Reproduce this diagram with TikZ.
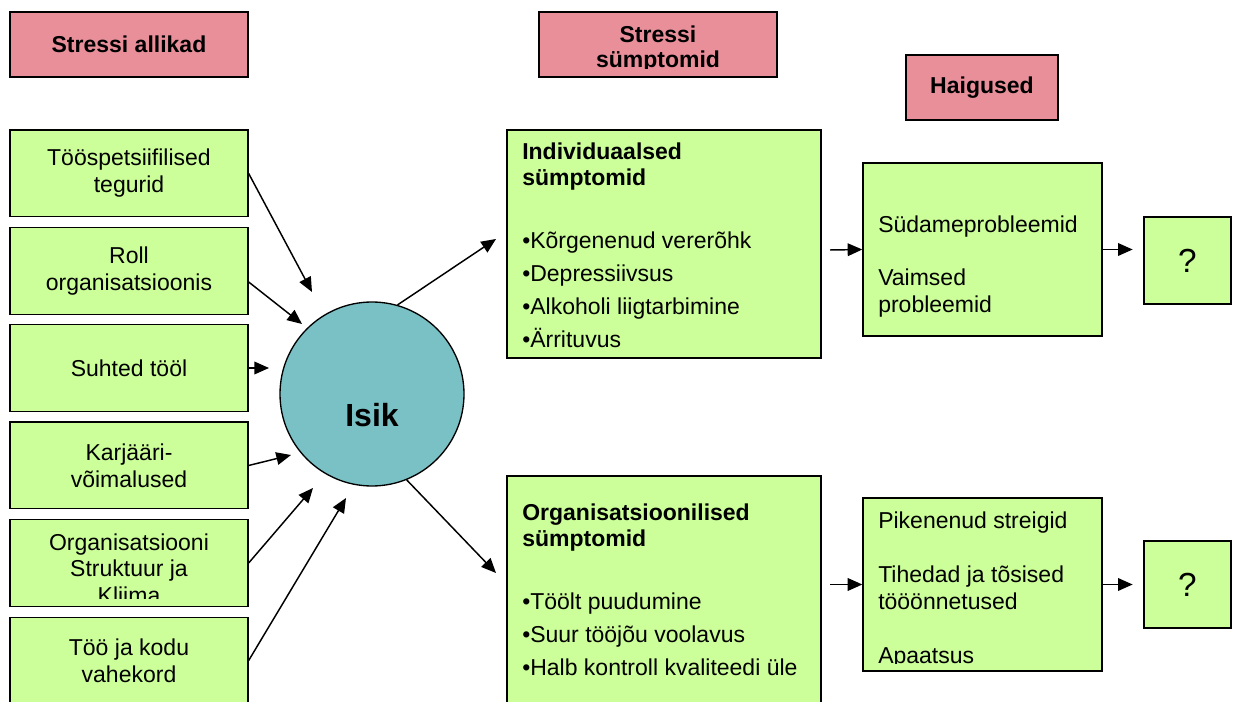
\documentclass[tikz,border=0pt]{standalone}
\usepackage{fontspec}
\setmainfont{Liberation Sans}
\usetikzlibrary{arrows.meta}

\definecolor{hdrpink}{RGB}{232,143,154}
\definecolor{boxgreen}{RGB}{204,255,153}
\definecolor{isikteal}{RGB}{122,193,198}

\tikzset{
  hdr/.style={draw=black, line width=1pt, fill=hdrpink, minimum width=178.5pt, minimum height=48.75pt, inner sep=0pt, align=center, font=\bfseries\fontsize{17.25}{19}\selectfont},
  src/.style={draw=black, line width=1pt, fill=boxgreen, minimum width=178.5pt, minimum height=65pt, inner sep=0pt, align=center, font=\fontsize{17.25}{20.25}\selectfont},
  symp/.style={draw=black, line width=1pt, fill=boxgreen, minimum width=235.5pt, minimum height=171pt, inner sep=0pt},
  ill/.style={draw=black, line width=1pt, fill=boxgreen, minimum width=179.25pt, minimum height=129.75pt, inner sep=0pt},
  qbox/.style={draw=black, line width=1pt, fill=boxgreen, minimum size=65.25pt, inner sep=0pt, font=\fontsize{25}{28}\selectfont},
  txt/.style={inner sep=0pt, anchor=north west, align=left, font=\fontsize{17.25}{20.25}\selectfont},
  arr/.style={-{Triangle[length=11pt,width=9.5pt]}, line width=1.1pt},
}

\begin{document}
\begin{tikzpicture}[x=0.75pt, y=-0.75pt]
        \useasboundingbox (0,0) rectangle (1233,702);

        % headers
        \node[hdr] (hsrc) at (129,44.5) {Stressi allikad};
        \node[hdr] (hsym) at (658,44.5) {};
        \begin{scope}
          \clip (539,12) rectangle (777,69);
          \node[inner sep=0pt, anchor=north, align=center, font=\bfseries\fontsize{17.25}{19}\selectfont] (hsymtxt) at (658,25.2) {Stressi\\sümptomid};
        \end{scope}
        \node[hdr, minimum width=114pt] (hill) at (982,87.5) {Haigused};

        % sources
        \node[src] (toospets) at (129,173.5) {Tööspetsiifilised\\tegurid};
        \node[src] (roll) at (129,271) {Roll\\organisatsioonis};
        \node[src] (suhted) at (129,368) {Suhted tööl};
        \node[src] (karjaar) at (129,465.5) {Karjääri-\\võimalused};
        \node[src] (struktuur) at (129,563) {};
        \begin{scope}
          \clip (10,520) rectangle (248,598);
          \node[inner sep=0pt, anchor=north, align=center, font=\fontsize{17.25}{20}\selectfont] (struktxt) at (129,533.2) {Organisatsiooni\\Struktuur ja\\Kliima};
        \end{scope}
        \node[src] (kodu) at (129,660.5) {Töö ja kodu\\vahekord};

        % person
        \node[circle, draw=black, line width=1pt, fill=isikteal, minimum size=138pt, inner sep=0pt, font=\bfseries\fontsize{24}{28}\selectfont] (isik) at (372,394) {\raisebox{-24.3pt}[0pt][0pt]{Isik}};

        % symptoms
        \node[symp] (indiv) at (664,244) {};
        \begin{scope}
          \clip (507,130) rectangle (821,349.5);
          \node[txt, font=\fontsize{17.25}{19.5}\selectfont] (indivtxt) at (522,142.4) {\textbf{Individuaalsed}\\\textbf{sümptomid}\\[27.75pt]•Kõrgenenud vererõhk\\[5.25pt]•Depressiivsus\\[5.25pt]•Alkoholi liigtarbimine\\[5.25pt]•Ärrituvus};
        \end{scope}
        \node[symp] (orgsym) at (664,590) {};
        \node[txt, font=\fontsize{17.25}{19.5}\selectfont] (orgtxt) at (522,503.4) {\textbf{Organisatsioonilised}\\\textbf{sümptomid}\\[27.75pt]•Töölt puudumine\\[5.25pt]•Suur tööjõu voolavus\\[5.25pt]•Halb kontroll kvaliteedi üle};

        % illnesses
        \node[ill] (suda) at (982.5,249.5) {};
        \node[txt, font=\fontsize{17.25}{20}\selectfont] (sudatxt) at (878,215.4) {Südameprobleemid\\[20pt]Vaimsed\\probleemid};
        \node[ill] (pik) at (982.5,584.5) {};
        \begin{scope}
          \clip (863,498) rectangle (1102,663.5);
          \node[txt] (piktxt) at (878,511.4) {Pikenenud streigid\\[20.25pt]Tihedad ja tõsised\\tööönnetused\\[20.25pt]Apaatsus};
        \end{scope}
        \node[qbox] (qa) at (1187.5,260.5) {?};
        \node[qbox] (qb) at (1187.5,584.5) {?};

        % arrows
        \coordinate (t1) at (312,292);
        \coordinate (t2) at (302,324);
        \coordinate (t3) at (269,368);
        \coordinate (t4) at (291,455);
        \coordinate (t5) at (313,488);
        \coordinate (t6) at (346,498);
        \draw[arr] (toospets.east) -- (t1);
        \draw[arr] ([yshift=-8.25pt]roll.east) -- (t2);
        \draw[arr] (suhted.east) -- (t3);
        \draw[arr] (karjaar.east) -- (t4);
        \draw[arr] (struktuur.east) -- (t5);
        \draw[arr] (kodu.east) -- (t6);

        \coordinate (m1) at (496,239);
        \coordinate (m2) at (496,573);
        \draw[arr] (isik.74) -- (m1);
        \draw[arr] (isik.-68) -- (m2);

        \coordinate (s1) at (830,250);
        \coordinate (s2) at (830,584.5);
        \draw[arr] (s1) -- (suda.west);
        \draw[arr] (s2) -- (pik.west);
        \draw[arr, shorten >=8pt] (suda.east) -- (suda.east -| qa.west);
        \draw[arr, shorten >=8pt] (pik.east) -- (qb.west);
        %\draw[dashed] (830,160) -- (830,690);
\end{tikzpicture}
\end{document}
